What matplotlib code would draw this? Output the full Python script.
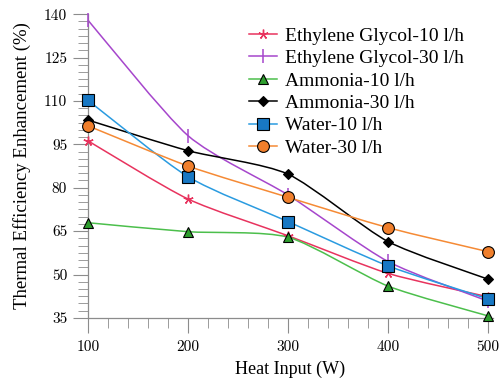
""" Thermal efficiency enhancement against heat input for three working
fluids at two flow rates.
"""

import matplotlib
matplotlib.use('Agg')
import matplotlib.pyplot as plt
import numpy as np
from matplotlib.path import Path
from matplotlib.patches import PathPatch
from matplotlib.ticker import MultipleLocator

HEAT_INPUT = [100, 200, 300, 400, 500]

EG_10 = [96.2, 76.1, 63.4, 50.4, 42.3]
EG_30 = [137.9, 98.0, 77.5, 54.5, 40.8]
AMMONIA_10 = [67.9, 64.8, 62.9, 46.0, 35.7]
AMMONIA_30 = [103.4, 92.8, 84.7, 61.4, 48.4]
WATER_10 = [110.2, 83.8, 68.3, 53.0, 41.6]
WATER_30 = [101.4, 87.5, 76.7, 66.2, 57.9]

LABELS = ['Ethylene Glycol-10 l/h', 'Ethylene Glycol-30 l/h',
          'Ammonia-10 l/h', 'Ammonia-30 l/h', 'Water-10 l/h', 'Water-30 l/h']
Y_TICKS = [35, 50, 65, 80, 95, 110, 125, 140]
X_TICKS = [100, 200, 300, 400, 500]

TICK_FONT = 'cmr10'
TEXT_FONT = 'Liberation Serif'


def smooth_path(x, y, tension=0.35):
    """ Cubic Bezier path through the points, like pgfplots 'smooth'.
    """
    pts = np.column_stack([x, y]).astype(float)
    n = len(pts)
    verts = [pts[0]]
    codes = [Path.MOVETO]
    for i in range(n - 1):
        p0 = pts[max(i - 1, 0)]
        p1, p2 = pts[i], pts[i + 1]
        p3 = pts[min(i + 2, n - 1)]
        c1 = p1 + (p2 - p0) * tension / 3.0
        c2 = p2 - (p3 - p1) * tension / 3.0
        verts += [c1, c2, p2]
        codes += [Path.CURVE4] * 3
    return Path(verts, codes)


def add_series(ax, y, line_color, marker, face, edge, size, label, mew=0.8):
    """ Draw one series: smooth line, markers and a legend handle.
    """
    ax.add_patch(PathPatch(smooth_path(HEAT_INPUT, y), fill=False,
                           edgecolor=line_color, lw=1.1, zorder=2,
                           clip_on=False))
    ax.plot(HEAT_INPUT, y, linestyle='none', marker=marker, ms=size,
            mfc=face, mec=edge, mew=mew, zorder=3, clip_on=False)
    ax.plot([], [], color=line_color, lw=1.1, marker=marker, ms=size,
            mfc=face, mec=edge, mew=mew, label=label)


fig = plt.figure(figsize=(5.03, 3.83), dpi=100)
ax = fig.add_axes([0.175, 0.170, 0.805, 0.793])

add_series(ax, EG_10, '#e8335e', (5, 2, 0), '#e8335e', '#e8335e', 7,
           LABELS[0], mew=1.0)
add_series(ax, EG_30, '#a646cc', '|', '#a646cc', '#a646cc', 9.5, LABELS[1],
           mew=1.1)
add_series(ax, AMMONIA_10, '#4cbf4c', '^', '#2e9e2e', 'black', 7, LABELS[2])
add_series(ax, AMMONIA_30, 'black', 'D', 'black', 'black', 5, LABELS[3])
add_series(ax, WATER_10, '#2a9be0', 's', '#1878c4', 'black', 8, LABELS[4])
add_series(ax, WATER_30, '#f58a35', 'o', '#f07f2c', 'black', 8.5, LABELS[5])

# Axes limits and ticks
ax.set_xlim(100, 505)
ax.set_ylim(35, 140)
ax.set_xticks(X_TICKS)
ax.set_yticks(Y_TICKS)
ax.xaxis.set_minor_locator(MultipleLocator(20))
ax.yaxis.set_minor_locator(MultipleLocator(2.5))

for side in ['top', 'right']:
    ax.spines[side].set_visible(False)
for side in ['left', 'bottom']:
    ax.spines[side].set_color('#8c8c8c')
    ax.spines[side].set_linewidth(0.9)

ax.tick_params(which='major', direction='out', length=11, width=0.8,
               color='#8c8c8c', pad=4, labelsize=11)
ax.tick_params(which='minor', direction='out', length=7, width=0.6,
               color='#8c8c8c')
ax.tick_params(axis='x', which='major', pad=5)

for lbl in ax.get_xticklabels() + ax.get_yticklabels():
    lbl.set_fontfamily(TICK_FONT)

ax.set_xlabel('Heat Input (W)', fontfamily=TEXT_FONT, fontsize=13)
ax.set_ylabel('Thermal Efficiency Enhancement (%)', fontfamily=TEXT_FONT,
              fontsize=13.5)
ax.xaxis.set_label_coords(0.5, -0.142)
ax.yaxis.set_label_coords(-0.14, 0.5)

ax.legend(loc='upper left', bbox_to_anchor=(249 / 503, 1 - 27 / 383),
          bbox_transform=fig.transFigure, frameon=False,
          prop={'family': TEXT_FONT, 'size': 14}, handlelength=1.45,
          handletextpad=0.4, labelspacing=0.25, borderpad=0.0,
          borderaxespad=0.0)

plt.savefig('out.png', dpi=100)
